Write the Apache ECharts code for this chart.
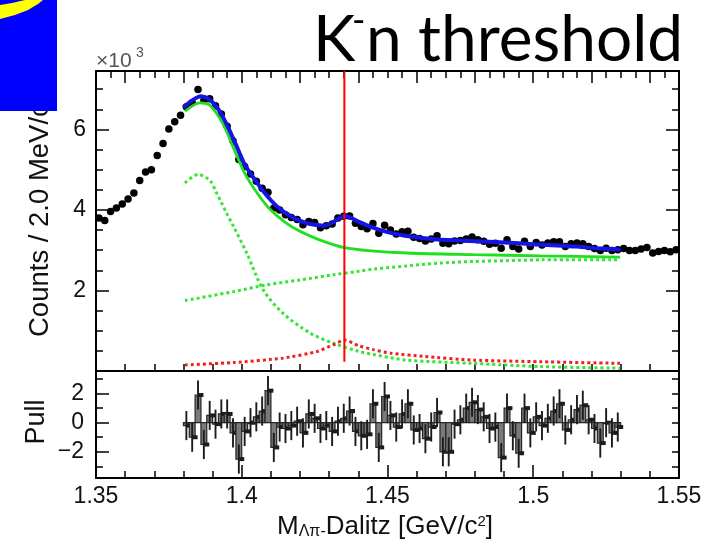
<!DOCTYPE html>
<html><head><meta charset="utf-8">
<script src="https://cdn.jsdelivr.net/npm/echarts@6/dist/echarts.min.js"></script>
<style>html,body{margin:0;padding:0;background:#fff}#c{width:708px;height:545px}</style>
</head><body><div id="c"></div><script>
// ---- data (counts in units of 10^3 per 2 MeV bin) ----
const massBins = [1.351,1.353,1.355,1.357,1.359,1.361,1.363,1.365,1.367,1.369,
 1.371,1.373,1.375,1.377,1.379,1.381,1.383,1.385,1.387,1.389,
 1.391,1.393,1.395,1.397,1.399,1.401,1.403,1.405,1.407,1.409,
 1.411,1.413,1.415,1.417,1.419,1.421,1.423,1.425,1.427,1.429,
 1.431,1.433,1.435,1.437,1.439,1.441,1.443,1.445,1.447,1.449,
 1.451,1.453,1.455,1.457,1.459,1.461,1.463,1.465,1.467,1.469,
 1.471,1.473,1.475,1.477,1.479,1.481,1.483,1.485,1.487,1.489,
 1.491,1.493,1.495,1.497,1.499,1.501,1.503,1.505,1.507,1.509,
 1.511,1.513,1.515,1.517,1.519,1.521,1.523,1.525,1.527,1.529,
 1.531,1.533,1.535,1.537,1.539,1.541,1.543,1.545,1.547,1.549];
const countsK = [3.80,3.74,3.96,4.05,4.15,4.27,4.42,4.73,4.94,5.00,
 5.35,5.65,6.01,6.19,6.35,6.56,6.66,6.99,6.72,6.76,
 6.59,6.38,6.08,5.71,5.25,5.08,4.89,4.71,4.54,4.44,
 4.05,4.00,3.88,3.81,3.76,3.63,3.71,3.69,3.56,3.61,
 3.65,3.80,3.84,3.85,3.67,3.59,3.53,3.66,3.42,3.62,
 3.50,3.40,3.46,3.47,3.32,3.29,3.23,3.28,3.36,3.17,
 3.16,3.23,3.24,3.28,3.33,3.26,3.22,3.15,3.17,3.05,
 3.26,3.09,3.03,3.22,3.09,3.19,3.13,3.18,3.21,3.21,
 3.09,3.16,3.18,3.16,3.09,3.04,2.99,3.05,2.99,3.01,
 3.04,2.99,2.99,3.03,3.07,2.93,2.97,2.99,2.96,3.01];
const pullBins = massBins.slice(15, 90);
const pullValues = [-0.2,-1.0,1.9,-1.5,0.5,-0.1,0.6,0.6,-0.7,-2.5,
 -0.6,0.0,0.4,0.8,2.2,-1.7,-0.3,-0.4,-0.2,0.1,
 -0.7,0.6,0.3,-0.4,-0.2,-0.6,0.1,0.3,0.8,-0.6,
 -0.9,-0.8,1.3,-1.7,1.8,0.5,-0.3,0.6,1.3,-0.5,
 -0.4,-1.1,-0.3,0.7,-2.0,-2.0,-0.1,0.2,1.0,1.4,
 0.9,0.4,-0.4,-0.3,-2.4,1.0,-0.9,-2.1,1.0,-0.7,
 0.4,-0.2,0.3,0.8,1.3,-0.5,0.2,0.9,1.2,0.2,
 -0.4,-1.4,0.0,-0.7,-0.3];
// fit curves
const totalMass = [1.380,1.383,1.386,1.389,1.392,1.395,1.398,1.401,1.404,1.407,1.410,1.413,1.416,1.419,1.422,1.425,1.428,1.431,1.4335,1.4353,1.437,1.440,1.445,1.450,1.456,1.465,1.475,1.485,1.495,1.505,1.515,1.523,1.530];
const totalFit = [6.55,6.72,6.82,6.74,6.50,6.10,5.62,5.13,4.80,4.50,4.24,4.03,3.88,3.76,3.68,3.63,3.61,3.68,3.80,3.85,3.82,3.71,3.56,3.45,3.36,3.28,3.24,3.21,3.17,3.13,3.09,3.04,3.01];
const sigBgMass = [1.3805,1.3857,1.3891,1.3937,1.3971,1.4011,1.4045,1.4091,1.4148,1.4205,1.4262,1.4348,1.4435,1.4566,1.4794,1.5023,1.5298];
const sigBgFit = [6.45,6.66,6.60,6.12,5.55,4.90,4.50,4.06,3.70,3.45,3.27,3.07,2.99,2.93,2.89,2.86,2.83];
const peakMass = [1.3805,1.3851,1.3891,1.3911,1.3931,1.3948,1.3971,1.4017,1.4074,1.4142,1.4235,1.4314,1.4405,1.4451,1.4566,1.4794,1.5023,1.5298];
const peakFit = [4.67,4.88,4.73,4.46,4.17,3.92,3.60,2.93,2.01,1.43,0.94,0.69,0.48,0.41,0.27,0.19,0.11,0.07];
const bgMass = [1.3805,1.3971,1.4085,1.4200,1.4314,1.4405,1.4451,1.4566,1.4680,1.4794,1.4909,1.5023,1.5298];
const bgFit = [1.75,1.97,2.14,2.26,2.39,2.48,2.53,2.61,2.68,2.72,2.74,2.76,2.76];
const cuspMass = [1.3805,1.3971,1.4142,1.4257,1.4314,1.4353,1.4400,1.4451,1.4513,1.4628,1.4794,1.5023,1.5298];
const cuspFit = [0.15,0.21,0.32,0.48,0.65,0.77,0.63,0.53,0.44,0.36,0.27,0.23,0.19];
const kThreshold = 1.4352;
const thresholdLine = [0.23, 7.45];
// tick positions / labels
const xLabels = [1.35,1.40,1.45,1.50,1.55];
const xTicks01 = [1.36,1.37,1.38,1.39,1.41,1.42,1.43,1.44,1.46,1.47,1.48,1.49,1.51,1.52,1.53,1.54];
const xTopMajor = [1.36,1.38,1.40,1.42,1.44,1.46,1.48,1.50,1.52,1.54];
const xTopMinor = [1.355,1.365,1.37,1.375,1.385,1.39,1.395,1.405,1.41,1.415,1.425,1.43,1.435,1.445,1.45,1.455,1.465,1.47,1.475,1.485,1.49,1.495,1.505,1.51,1.515,1.525,1.53,1.535,1.545];
const yMainLabels = [2,4,6];
const yMainMinor = [0.5,1,1.5,2.5,3,3.5,4.5,5,5.5,6.5,7];
const yPullLabels = [-2,0,2];
const yPullMinor = [-3,-1,1,3];

const zip = (xs, ys) => xs.map((x, i) => [x, ys[i]]);
const FONT = '"Liberation Sans", Arial, sans-serif';
const TFONT = 'Lato, "Open Sans", sans-serif';
const BLACK = '#000';
const frameLine = {show: true, onZero: false, lineStyle: {color: BLACK, width: 2}};
const noLine = {show: false, onZero: false};
const tk = (vals, len) => ({show: true, inside: true, length: len, customValues: vals, lineStyle: {color: BLACK, width: 1.5}});
const noLabel = {show: false};
const noSplit = {show: false};
const X = (o) => Object.assign({type: 'value', min: 1.35, max: 1.55, splitLine: noSplit, axisLabel: noLabel}, o);
const YM = (o) => Object.assign({type: 'value', gridIndex: 0, min: 0, max: 7.45, splitLine: noSplit, axisLabel: noLabel}, o);
const YP = (o) => Object.assign({type: 'value', gridIndex: 1, min: -3.8, max: 3.55, splitLine: noSplit, axisLabel: noLabel}, o);
const dotted = (c) => ({color: c, width: 3, type: [3, 3]});

const chart = echarts.init(document.getElementById('c'), null, {renderer: 'canvas'});
const option = {
  animation: false,
  backgroundColor: '#fff',
  grid: [
    {left: 96, top: 71, width: 583, height: 300},
    {left: 96, top: 371, width: 583, height: 107}
  ],
  xAxis: [
    X({gridIndex: 0, position: 'bottom', axisLine: frameLine, axisTick: tk(xLabels.concat(xTicks01), 7)}),
    X({gridIndex: 0, position: 'top', axisLine: frameLine, axisTick: tk(xTopMinor, 7)}),
    X({gridIndex: 0, position: 'top', axisLine: noLine, axisTick: tk(xTopMajor, 12)}),
    X({gridIndex: 1, position: 'bottom', axisLine: frameLine, axisTick: tk(xLabels, 13),
       axisLabel: {show: true, customValues: xLabels, showMinLabel: true, showMaxLabel: true, margin: 7,
         color: '#111', fontSize: 23, fontFamily: FONT, formatter: v => String(parseFloat(v.toFixed(2)))}}),
    X({gridIndex: 1, position: 'bottom', axisLine: noLine, axisTick: tk(xTicks01, 7)}),
    X({gridIndex: 1, position: 'top', axisLine: frameLine, axisTick: {show: false}})
  ],
  yAxis: [
    YM({position: 'left', axisLine: frameLine, axisTick: tk(yMainLabels, 13),
        axisLabel: {show: true, customValues: yMainLabels, margin: 10, color: '#111', fontSize: 23, fontFamily: FONT}}),
    YM({position: 'left', axisLine: noLine, axisTick: tk(yMainMinor, 7)}),
    YM({position: 'right', axisLine: frameLine, axisTick: tk(yMainLabels, 13)}),
    YM({position: 'right', axisLine: noLine, axisTick: tk(yMainMinor, 7)}),
    YP({position: 'left', axisLine: frameLine, axisTick: tk(yPullLabels, 13),
        axisLabel: {show: true, customValues: yPullLabels, margin: 12, color: '#111', fontSize: 23, fontFamily: FONT,
          formatter: v => v < 0 ? '\u2212' + (-v) : String(v)}}),
    YP({position: 'left', axisLine: noLine, axisTick: tk(yPullMinor, 7)}),
    YP({position: 'right', axisLine: frameLine, axisTick: tk(yPullLabels.concat(yPullMinor), 7)})
  ],
  series: [
    {type: 'scatter', name: 'data', xAxisIndex: 0, yAxisIndex: 0, data: zip(massBins, countsK),
     symbol: 'circle', symbolSize: 7.5, itemStyle: {color: '#000', opacity: 1}, z: 2},
    {type: 'line', name: 'bg', xAxisIndex: 0, yAxisIndex: 0, data: zip(bgMass, bgFit), showSymbol: false, smooth: 0.3,
     lineStyle: dotted('#33e633'), z: 3},
    {type: 'line', name: 'peak', xAxisIndex: 0, yAxisIndex: 0, data: zip(peakMass, peakFit), showSymbol: false, smooth: 0.3,
     lineStyle: dotted('#33e633'), z: 3},
    {type: 'line', name: 'cusp', xAxisIndex: 0, yAxisIndex: 0, data: zip(cuspMass, cuspFit), showSymbol: false, smooth: 0.2,
     lineStyle: dotted('#f02020'), z: 3},
    {type: 'line', name: 'sigbg', xAxisIndex: 0, yAxisIndex: 0, data: zip(sigBgMass, sigBgFit), showSymbol: false, smooth: 0.3,
     lineStyle: {color: '#1ee01e', width: 2.8}, z: 4},
    {type: 'line', name: 'total', xAxisIndex: 0, yAxisIndex: 0, data: zip(totalMass, totalFit), showSymbol: false, smooth: 0.3,
     lineStyle: {color: '#1414e6', width: 4}, z: 5},
    {type: 'line', name: 'threshold', xAxisIndex: 0, yAxisIndex: 0, data: [[kThreshold, thresholdLine[0]], [kThreshold, thresholdLine[1]]],
     showSymbol: false, lineStyle: {color: '#ff0000', width: 2}, z: 6},
    {type: 'custom', name: 'pull', xAxisIndex: 3, yAxisIndex: 4, data: zip(pullBins, pullValues), z: 3,
     renderItem: function (params, api) {
       const x = api.value(0), p = api.value(1);
       const a = api.coord([x - 0.001, 0]);
       const b = api.coord([x + 0.001, p]);
       const e1 = api.coord([x, p - 1]);
       const e2 = api.coord([x, p + 1]);
       const top = Math.min(a[1], b[1]);
       const h = Math.abs(a[1] - b[1]);
       return {type: 'group', children: [
         {type: 'rect', shape: {x: a[0], y: top, width: b[0] - a[0], height: Math.max(h, 1)},
          style: {fill: '#7a7a7a', stroke: '#262626', lineWidth: 1.2}},
         {type: 'line', shape: {x1: e1[0], y1: e1[1], x2: e2[0], y2: e2[1]},
          style: {stroke: '#1c1c1c', lineWidth: 1.9}},
         {type: 'rect', shape: {x: b[0] - 2.5, y: b[1] - 2, width: 5, height: 4}, style: {fill: '#1c1c1c'}}
       ]};
     }}
  ],
  graphic: [
    {type: 'text', z: 100, x: 40, y: 337, rotation: Math.PI / 2,
     style: {text: 'Counts / 2.0 MeV/c\u00b2', fontSize: 27.5, fontFamily: FONT, fill: '#111', align: 'left', verticalAlign: 'middle'}},
    {type: 'text', z: 100, x: 37, y: 422, rotation: Math.PI / 2,
     style: {text: 'Pull', fontSize: 27, fontFamily: FONT, fill: '#111', align: 'center', verticalAlign: 'middle'}},
    {type: 'text', z: 100, x: 277, y: 527,
     style: {text: '{m|M}{s|\u039b\u03c0-}{m|Dalitz [GeV/c}{p|2}{m|]}', align: 'left', verticalAlign: 'middle',
       rich: {m: {fontSize: 26, lineHeight: 26, fontFamily: FONT, fill: '#111'},
              s: {fontSize: 16, lineHeight: 2, verticalAlign: 'bottom', fontFamily: FONT, fill: '#111'},
              p: {fontSize: 15, lineHeight: 12, verticalAlign: 'top', fontFamily: FONT, fill: '#111'}}}},
    {type: 'text', z: 100, x: 96, y: 61,
     style: {text: '\u00d710', fontSize: 21, fontFamily: FONT, fill: '#555', align: 'left', verticalAlign: 'middle'}},
    {type: 'text', z: 100, x: 136, y: 53,
     style: {text: '3', fontSize: 14, fontFamily: FONT, fill: '#555', align: 'left', verticalAlign: 'middle'}},
    {type: 'text', z: 100, x: 313, y: 40,
     style: {text: 'K', fontSize: 64, fontFamily: TFONT, fill: '#000', align: 'left', verticalAlign: 'middle'}},
    {type: 'text', z: 100, x: 352, y: 21,
     style: {text: '-', fontSize: 36, fontFamily: TFONT, fill: '#000', align: 'left', verticalAlign: 'middle'}},
    {type: 'text', z: 100, x: 366, y: 40,
     style: {text: 'n threshold', fontSize: 64, fontFamily: TFONT, fill: '#000', align: 'left', verticalAlign: 'middle'}},
    {type: 'rect', z: 110, shape: {x: 0, y: 0, width: 57, height: 111}, style: {fill: '#0000ff'}},
    {type: 'polygon', z: 111, shape: {points: [[0, 5], [12, 3], [25, 0], [43, 0], [38, 4], [28, 10], [15, 15], [0, 19]]},
     style: {fill: '#ffff00'}}
  ]
};
chart.setOption(option);
</script></body></html>
